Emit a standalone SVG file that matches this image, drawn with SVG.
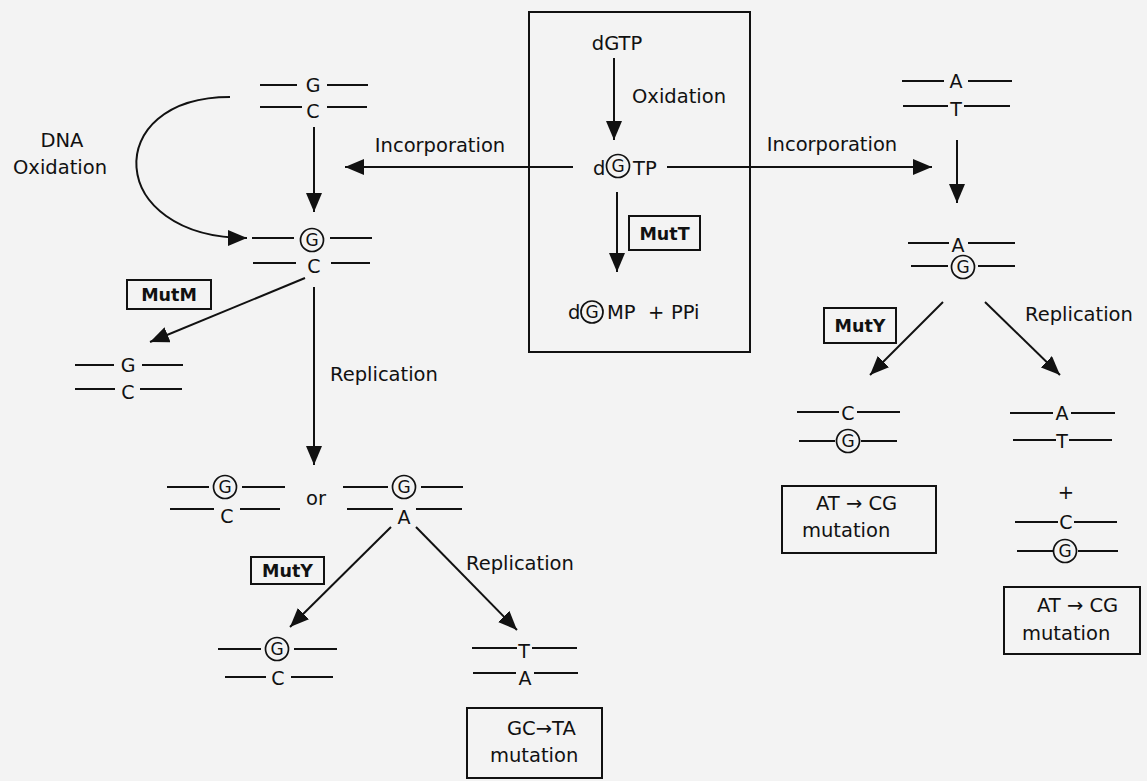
<svg xmlns="http://www.w3.org/2000/svg" width="1147" height="781" viewBox="0 0 1147 781">
<defs>
<marker id="ah" markerUnits="userSpaceOnUse" markerWidth="20" markerHeight="16" refX="19" refY="8" orient="auto">
<path d="M0,0 L19,8 L0,16 z" fill="#111"/>
</marker>
<style>
text{font-family:"DejaVu Sans","Verdana",sans-serif;fill:#111}
.t{font-size:19.5px}
.b{font-size:19px}
.g{font-size:17px}
.e{font-size:17.5px;font-weight:bold}
.m{text-anchor:middle}
.ln{stroke:#111;stroke-width:2;fill:none}
.ar{stroke:#111;stroke-width:2;fill:none;marker-end:url(#ah)}
.bx{stroke:#111;stroke-width:2;fill:none}
.c{stroke:#111;stroke-width:1.7;fill:none}
</style>
</defs>
<rect width="1147" height="781" fill="#f3f3f3"/>

<g id="connectors">
<path class="ar" d="M314,127 L314,212"/>
<path class="ar" d="M573,167 L345,167"/>
<path class="ar" d="M667,167 L932,167"/>
<path class="ar" d="M614,58 L614,140"/>
<path class="ar" d="M617,192 L617,272"/>
<path class="ar" d="M957,140 L957,203"/>
<path class="ar" d="M943,302 L870,375"/>
<path class="ar" d="M985,302 L1060,375"/>
<path class="ar" d="M305,278 L150,342"/>
<path class="ar" d="M314,287 L314,465"/>
<path class="ar" d="M391,527 L290,627"/>
<path class="ar" d="M416,527 L517,630"/>
<path class="ar" d="M230,97 C100,97 105,238 247,238"/>
</g>

<g id="labels">
<text class="t m" x="62" y="147">DNA</text>
<text class="t m" x="60" y="174">Oxidation</text>
<text class="t m" x="440" y="152">Incorporation</text>
<text class="t m" x="832" y="151">Incorporation</text>
<text class="t" x="330" y="381">Replication</text>
<text class="t" x="1025" y="321">Replication</text>
<text class="t" x="466" y="570">Replication</text>
<text class="t m" x="316" y="505">or</text>
</g>

<g id="mutt-box">
<rect class="bx" x="529" y="12" width="221" height="340"/>
<text class="t m" x="617" y="50">dGTP</text>
<text class="t" x="632" y="103">Oxidation</text>
<g id="dgtp-ox">
<text class="t" x="593" y="175">d</text>
<circle class="c" cx="618" cy="166" r="11.5"/>
<text class="g m" x="618" y="172">G</text>
<text class="t" x="633" y="175">TP</text>
</g>
<g id="mutt">
<rect class="bx" x="629" y="216" width="71" height="34"/>
<text class="e m" x="664.5" y="239.5">MutT</text>
</g>
<g id="dgmp">
<text class="t" x="568" y="319">d</text>
<circle class="c" cx="592" cy="312" r="11"/>
<text class="g m" x="592" y="318">G</text>
<text class="t" x="607" y="319">MP</text>
<text class="t" x="648" y="319">+</text>
<text class="t" x="671" y="319">PPi</text>
</g>
</g>

<g id="pair-gc-top">
<path class="ln" d="M260,85 H297 M327,85 H368 M260,107 H302 M327,107 H367"/>
<text class="b m" x="313" y="92">G</text>
<text class="b m" x="313" y="118">C</text>
</g>

<g id="pair-oxg-c">
<path class="ln" d="M252,238 H294 M330,238 H372 M253,263 H296 M331,263 H370"/>
<circle class="c" cx="312" cy="240" r="11.5"/>
<text class="g m" x="312" y="246">G</text>
<text class="b m" x="314" y="273">C</text>
</g>

<g id="mutm">
<rect class="bx" x="127" y="280" width="84" height="29"/>
<text class="e m" x="169" y="301">MutM</text>
</g>

<g id="pair-gc-repaired">
<path class="ln" d="M75,365 H114 M142,365 H183 M75,389 H115 M140,389 H182"/>
<text class="b m" x="128" y="372">G</text>
<text class="b m" x="128" y="399">C</text>
</g>

<g id="pair-oxg-c-2">
<path class="ln" d="M167,487 H209 M242,487 H285 M170,509 H214 M240,509 H280"/>
<circle class="c" cx="225" cy="487" r="11.5"/>
<text class="g m" x="225" y="493">G</text>
<text class="b m" x="227" y="523">C</text>
</g>

<g id="pair-oxg-a">
<path class="ln" d="M343,487 H388 M421,487 H463 M347,509 H393 M416,509 H462"/>
<circle class="c" cx="404" cy="487" r="11.5"/>
<text class="g m" x="404" y="493">G</text>
<text class="b m" x="404" y="524">A</text>
</g>

<g id="muty-left">
<rect class="bx" x="251" y="557" width="73" height="27"/>
<text class="e m" x="287.5" y="577">MutY</text>
</g>

<g id="pair-oxg-c-3">
<path class="ln" d="M218,649 H261 M294,649 H337 M225,677 H266 M291,677 H333"/>
<circle class="c" cx="277" cy="649" r="11.5"/>
<text class="g m" x="277" y="655">G</text>
<text class="b m" x="278" y="685">C</text>
</g>

<g id="pair-ta">
<path class="ln" d="M472,648 H517 M532,648 H577 M473,673 H516 M534,673 H578"/>
<text class="b m" x="524" y="658">T</text>
<text class="b m" x="525" y="685">A</text>
</g>

<g id="box-gc-ta">
<rect class="bx" x="467" y="708" width="135" height="70"/>
<text class="t" x="507" y="735">GC→TA</text>
<text class="t" x="490" y="762">mutation</text>
</g>

<g id="pair-at-top">
<path class="ln" d="M902,81 H944 M968,81 H1012 M903,106 H948 M964,106 H1010"/>
<text class="b m" x="956" y="88">A</text>
<text class="b m" x="956" y="116">T</text>
</g>

<g id="pair-a-oxg">
<path class="ln" d="M908,243 H949 M968,243 H1015 M911,266 H948 M978,266 H1015"/>
<text class="b m" x="958" y="252">A</text>
<circle class="c" cx="963" cy="267" r="11.5"/>
<text class="g m" x="963" y="273">G</text>
</g>

<g id="muty-right">
<rect class="bx" x="824" y="308" width="72" height="35"/>
<text class="e m" x="860" y="332">MutY</text>
</g>

<g id="pair-c-oxg">
<path class="ln" d="M797,412 H839 M857,412 H900 M799,441 H835 M861,441 H897"/>
<text class="b m" x="848" y="420">C</text>
<circle class="c" cx="848" cy="441" r="11.5"/>
<text class="g m" x="848" y="447">G</text>
</g>

<g id="box-at-cg-1">
<rect class="bx" x="782" y="486" width="154" height="67"/>
<text class="t" x="816" y="510">AT → CG</text>
<text class="t" x="802" y="537">mutation</text>
</g>

<g id="pair-at-2">
<path class="ln" d="M1010,413 H1053 M1071,413 H1115 M1013,440 H1056 M1069,440 H1112"/>
<text class="b m" x="1062" y="420">A</text>
<text class="b m" x="1062" y="448">T</text>
</g>

<text class="t m" x="1066" y="499">+</text>

<g id="pair-c-oxg-2">
<path class="ln" d="M1015,522 H1058 M1074,522 H1117 M1017,551 H1053 M1078,551 H1118"/>
<text class="b m" x="1066" y="529">C</text>
<circle class="c" cx="1065" cy="551" r="11.5"/>
<text class="g m" x="1065" y="557">G</text>
</g>

<g id="box-at-cg-2">
<rect class="bx" x="1004" y="587" width="136" height="67"/>
<text class="t" x="1037" y="612">AT → CG</text>
<text class="t" x="1022" y="640">mutation</text>
</g>
</svg>
